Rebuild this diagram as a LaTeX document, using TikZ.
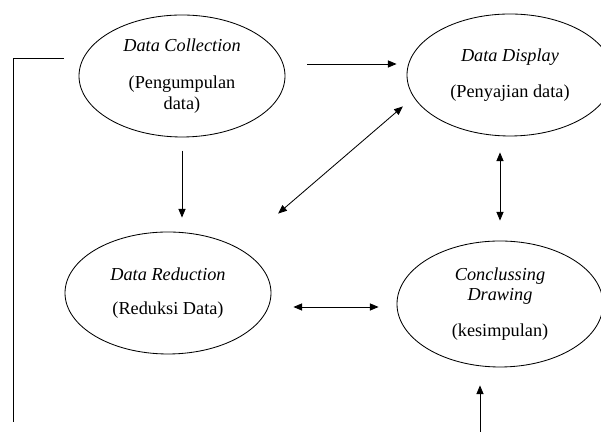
\documentclass[tikz,border=0pt]{standalone}
\usepackage{fontspec}
\setmainfont{Liberation Serif}
\usetikzlibrary{shapes.geometric, arrows.meta, positioning, calc}

\begin{document}
\begin{tikzpicture}[
        stage/.style={ellipse, draw=black, line width=0.6pt, minimum width=5.15cm, minimum height=3.05cm, inner sep=0pt, align=center, font=\fontsize{13}{14.5}\selectfont},
        flow/.style={line width=0.6pt, -{Triangle[length=2.2mm, width=1.8mm]}},
        both/.style={line width=0.6pt, {Triangle[length=2.2mm, width=1.8mm]}-{Triangle[length=2.2mm, width=1.8mm]}}
    ]
        \useasboundingbox (0,0) rectangle (15.025,10.8);

        % Stages
        \node[stage] (collect) at (4.55, 8.9) {\textit{Data Collection}\\[12pt](Pengumpulan\\data)};
        \node[stage] (display) at (12.75, 8.925) {\textit{Data Display}\\[11pt](Penyajian data)};
        \node[stage] (reduce) at (4.2, 3.475) {\textit{Data Reduction}\\[10pt](Reduksi Data)};
        \node[stage, minimum height=3.15cm] (concl) at (12.5, 3.2) {\textit{Conclussing}\\\textit{Drawing}\\[11pt](kesimpulan)};

        % Free ends of the loop
        \coordinate (loopend) at (0.325, 0.25);
        \coordinate (loopin) at (12, 0);

        % Flows between stages
        \draw[flow, shorten <=0.55cm, shorten >=0.25cm] ([yshift=0.3cm]collect.east) -- ([yshift=0.3cm]collect.east -| display.west);
        \draw[flow, shorten <=0.33cm, shorten >=0.35cm] (collect.south) -- (collect.south |- reduce.north);
        \draw[both] ([xshift=0.925cm, yshift=0.9cm]reduce.north east) -- ([xshift=-0.85cm, yshift=0.3cm]display.south west);
        \draw[both, shorten <=0.4cm, shorten >=0.5cm] (display.south -| concl.north) -- (concl.north);
        \draw[both, shorten <=0.55cm, shorten >=0.45cm] ($(reduce.east)+(0,-0.35)$) -- ($(reduce.east -| concl.west)+(0,-0.35)$);

        % Loop back
        \draw[line width=0.6pt] ([xshift=-0.375cm, yshift=0.45cm]collect.west) -| (loopend);
        \draw[flow, shorten >=0.45cm] (loopin) -- (loopin |- concl.south);

    \end{tikzpicture}
\end{document}
